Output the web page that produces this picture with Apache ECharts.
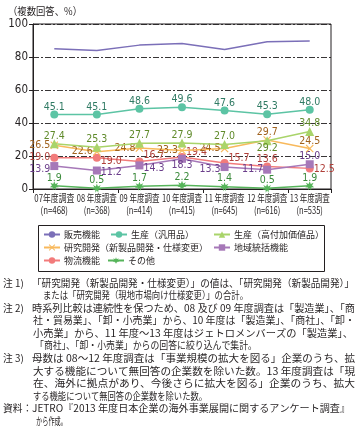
<!DOCTYPE html>
<html><head><meta charset="utf-8">
<script src="https://cdn.jsdelivr.net/npm/echarts@6/dist/echarts.min.js"></script>
<style>html,body{margin:0;padding:0;background:#fff}#c{width:358px;height:436px}</style>
</head><body><div id="c"></div>
<script>
// ---- data ----
const categories = ['07年度調査','08 年度調査','09 年度調査','10 年度調査','11 年度調査','12 年度調査','13 年度調査'];
const sampleSizes = ['(n=468)','(n=368)','(n=414)','(n=415)','(n=645)','(n=616)','(n=535)'];
const sales = [85.0,83.9,87.2,88.2,84.5,89.3,89.7];
const prodGeneral = [45.1,45.1,48.6,49.6,47.6,45.3,48.0];
const prodHigh = [27.4,25.3,27.7,27.9,27.0,29.2,34.8];
const rnd = [26.5,22.6,24.8,23.3,24.5,29.7,24.5];
const regionalHQ = [13.9,11.2,14.3,18.3,13.3,11.7,15.0];
const logistics = [19.0,19.0,16.7,19.4,15.7,13.6,12.5];
const others = [1.9,0.5,1.7,2.2,1.4,0.5,1.9];
const yMin = 0, yMax = 100, yStep = 20;
const seriesNames = ['販売機能','生産（汎用品）','生産（高付加価値品）','研究開発（新製品開発・仕様変更）','地域統括機能','物流機能','その他'];
const unitLabel = '（複数回答、%）';
const notes = [
  ['注 1)', '「研究開発（新製品開発・仕様変更）」の値は、「研究開発（新製品開発）」'],
  ['', 'または「研究開発（現地市場向け仕様変更）」の合計。'],
  ['注 2)', '時系列比較は連続性を保つため、08 及び 09 年度調査は「製造業」、「商'],
  ['', '社・貿易業」、「卸・小売業」から、10 年度は「製造業」、「商社」、「卸・'],
  ['', '小売業」から、11 年度～13 年度はジェトロメンバーズの「製造業」、'],
  ['', '「商社」、「卸・小売業」からの回答に絞り込んで集計。'],
  ['注 3)', '母数は 08～12 年度調査は「事業規模の拡大を図る」企業のうち、拡'],
  ['', '大する機能について無回答の企業数を除いた数。13 年度調査は「現'],
  ['', '在、海外に拠点があり、今後さらに拡大を図る」企業のうち、拡大'],
  ['', 'する機能について無回答の企業数を除いた数。'],
  ['資料：', 'JETRO『2013 年度日本企業の海外事業展開に関するアンケート調査』'],
  ['', 'から作成。']
];

// ---- styles / layout ----
const numFont = "'Liberation Sans Narrow','Arial Narrow','DejaVu Sans Condensed',sans-serif";
const jpFont = "'Noto Sans CJK JP',sans-serif";
const ink = '#231f20';
const noteX = [32,43,32,33,33,35,32,33,33,33,32,36];
const noteRight = [354,248,355,355,353,257,355,355,355,207,350,67];
const noteY0 = 283, noteStep = 12.55;

const X_PATH = 'path://M1,0 L5,4 L9,0 L10,1 L6,5 L10,9 L9,10 L5,6 L1,10 L0,9 L4,5 L0,1 Z';
const STAR_PATH = 'path://M5,0 L6.2,3 L9.3,1.6 L7.6,4.6 L10,6.6 L6.8,6.8 L6.5,10 L5,7.4 L3.5,10 L3.2,6.8 L0,6.6 L2.4,4.6 L0.7,1.6 L3.8,3 Z';

const cfg = [
  {data:sales, color:'#7b6fb8', lc:'#3f3a7a', symbol:'none', size:0, pos:Array(7).fill('top')},
  {data:prodGeneral, color:'#5cc4a4', lc:'#2f7a63', symbol:'circle', size:8, pos:Array(7).fill('top')},
  {data:prodHigh, color:'#a9d46a', lc:'#5f8a2a', symbol:'triangle', size:9, pos:['top','top','top','top','top','bottom','top']},
  {data:rnd, color:'#f8b95c', lc:'#a0621e', symbol:X_PATH, size:8, pos:['left','left','left','left','left','top','top']},
  {data:regionalHQ, color:'#a678b8', lc:'#6a3d8a', symbol:'rect', size:8, pos:['left','right','right','bottom','left','left','top'],
    off:[[0,3],[0,2],[0,3],[0,0],[0,2],[0,0],[0,0]]},
  {data:logistics, color:'#f27b7b', lc:'#b0403a', symbol:'circle', size:8, pos:['left','right','right','right','right','top','right'],
    off:[[0,0],[0,4],[0,-6],[0,-5],[0,-5],[0,0],[0,1]]},
  {data:others, color:'#56b45a', lc:'#3a8a3a', symbol:STAR_PATH, size:9, pos:Array(7).fill('top')}
];
function labelDist(pos, hasSymbol) {
  if (!hasSymbol) return 1;
  if (pos === 'top') return -2;
  if (pos === 'bottom') return -3;
  return 0;
}

const series = cfg.map((c, k) => ({
  type:'line', name:seriesNames[k], z: 10 - k,
  data: c.data.map((v,i) => ({value:v, label:{position:c.pos[i], distance:labelDist(c.pos[i], c.symbol !== 'none'),
    offset:c.off ? c.off[i] : [0,0]}})),
  symbol:c.symbol, symbolSize:c.size, showSymbol: c.symbol !== 'none',
  lineStyle:{color:c.color, width:1.5}, itemStyle:{color:c.color},
  label:{show:true, color:c.lc, fontSize:10.5, fontFamily:numFont,
    formatter: p => Number(p.value).toFixed(1)},
  emphasis:{disabled:true}
}));

const legendPos = [[43,230],[110,230],[213,230],[43,243],[213,243],[43,256],[107,256]];
const legends = seriesNames.map((n,k) => ({
  data:[n], left:legendPos[k][0], top:legendPos[k][1], itemWidth:16, itemHeight:8, itemGap:0,
  padding:0, selectedMode:false, textStyle:{fontSize:9, fontFamily:jpFont, color:ink, padding:[0,0,0,-1]}
}));

// text helper: fits text horizontally to a measured target width
const mctx = document.createElement('canvas').getContext('2d');
function measure(text, font) { mctx.font = font; return mctx.measureText(text).width || 1; }
function fitText(text, x, y, right, font, align) {
  const w = measure(text, font);
  const s = right ? (right - x) / w : 1;
  return {type:'text', x:x, y:y, scaleX:s, silent:true,
    style:{text:text, font:font, fill:ink, align:align || 'left', verticalAlign:'middle'}};
}
const noteFontStr = "9.8px 'Noto Sans CJK JP'";
const catFontStr = "10px 'Liberation Sans Narrow','Noto Sans CJK JP'";

const chart = echarts.init(document.getElementById('c'), null, {renderer:'canvas'});
chart.setOption({
  animation:false,
  grid:{left:33, right:27, top:24, bottom:247, containLabel:false, outerBoundsMode:'none',
    show:true, borderColor:ink, borderWidth:1, backgroundColor:'transparent'},
  legend:legends,
  xAxis:{type:'category', data:categories, boundaryGap:true,
    axisLine:{lineStyle:{color:ink, width:1}},
    axisTick:{show:true, length:4, alignWithLabel:false, lineStyle:{color:ink}},
    axisLabel:{show:false}},
  yAxis:{type:'value', min:yMin, max:yMax, interval:yStep,
    axisLine:{show:true, lineStyle:{color:ink, width:1}},
    axisTick:{show:true, length:4, lineStyle:{color:ink}},
    axisLabel:{fontSize:11.5, color:ink, fontFamily:numFont, margin:5},
    splitLine:{show:true, lineStyle:{color:ink, width:0.9, type:[6,2,2,2]}}},
  series:series
});

// graphics: unit label, legend frame, category labels (placed via axis scale), notes
const graphics = [];
graphics.push(fitText(unitLabel, 8, 11, 82, "10.5px 'Noto Sans CJK JP'"));
graphics.push({type:'rect', shape:{x:38.5, y:225.5, width:286, height:46}, silent:true,
  style:{fill:'none', stroke:ink, lineWidth:1}});
const y0 = chart.convertToPixel({yAxisIndex:0}, yMin);
categories.forEach((c, i) => {
  const cx = chart.convertToPixel({xAxisIndex:0}, c);
  const s = 40 / measure(c, catFontStr);
  const t1 = fitText(c, cx, y0 + 9.5, null, catFontStr, 'center'); t1.scaleX = s;
  const t2 = fitText(sampleSizes[i], cx, y0 + 21, null, catFontStr, 'center'); t2.scaleX = s;
  graphics.push(t1, t2);
});
notes.forEach((ln, i) => {
  const y = noteY0 + noteStep * i;
  if (ln[0]) graphics.push(fitText(ln[0], 3, y, null, noteFontStr));
  graphics.push(fitText(ln[1], noteX[i], y, noteRight[i], noteFontStr));
});
chart.setOption({graphic:graphics});
</script></body></html>
